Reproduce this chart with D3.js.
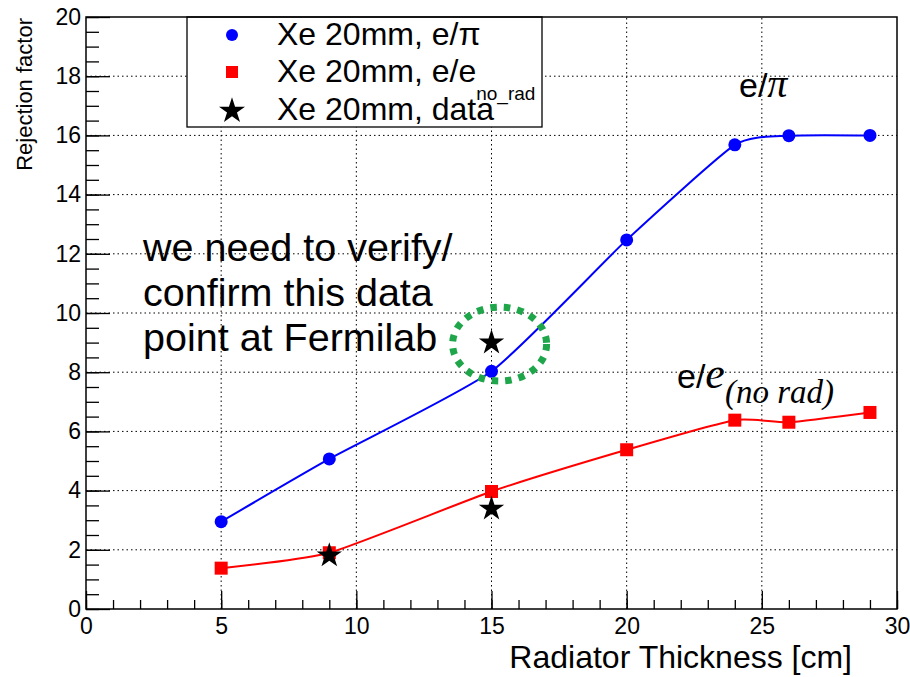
<!DOCTYPE html>
<html>
<head>
<meta charset="utf-8">
<script src="https://cdn.jsdelivr.net/npm/d3@7.9.0/dist/d3.min.js"></script>
<style>
  html, body { margin: 0; padding: 0; background: #fff; }
  svg { display: block; font-family: "Liberation Sans", Arial, Helvetica, sans-serif; }
  .serif { font-family: "Liberation Serif", "Times New Roman", serif; font-style: italic; }
</style>
</head>
<body>
<svg id="chart" width="910" height="677"></svg>
<script>
// data
const thickness = [5, 9, 15, 20, 24, 26, 29];
const ePi = [2.95, 5.07, 8.03, 12.47, 15.68, 15.99, 16.0];
const eNoRad = [1.38, 1.9, 3.97, 5.38, 6.38, 6.31, 6.64];
const dataX = [9, 15, 15];
const dataY = [1.84, 3.42, 9.03];
const xTicks = [0, 5, 10, 15, 20, 25, 30];
const yTicks = [0, 2, 4, 6, 8, 10, 12, 14, 16, 18, 20];
const legendLabels = ['Xe 20mm, e/\u03c0', 'Xe 20mm, e/e', 'Xe 20mm, data'];

const W = 910, H = 677;
const margin = { top: 17, right: 13, bottom: 68, left: 86 };

const svg = d3.select('#chart');
const x = d3.scaleLinear().domain([0, 30]).range([margin.left, W - margin.right]);
const y = d3.scaleLinear().domain([0, 20]).range([H - margin.bottom, margin.top]);

// grid (dotted, major ticks only)
const grid = svg.append('g').attr('stroke', '#000').attr('stroke-width', 1).attr('stroke-dasharray', '1.5 3');
xTicks.slice(1, -1).forEach(t => {
  grid.append('line').attr('x1', x(t)).attr('x2', x(t)).attr('y1', y(0)).attr('y2', y(20));
});
yTicks.slice(1, -1).forEach(t => {
  grid.append('line').attr('x1', x(0)).attr('x2', x(30)).attr('y1', y(t)).attr('y2', y(t));
});

// axes: ticks point inward
const yMinor = d3.range(0, 20.01, 0.5);
const xMinor = d3.range(0, 30.01, 1);

svg.append('g').attr('transform', `translate(${x(0)},0)`)
  .call(d3.axisLeft(y).tickValues(yMinor).tickSize(-13).tickFormat(''))
  .call(g => g.select('.domain').remove())
  .call(g => g.selectAll('line').attr('stroke', '#000').attr('stroke-width', 1.3));

svg.append('g').attr('transform', `translate(${x(0)},0)`)
  .call(d3.axisLeft(y).tickValues(yTicks).tickSize(-24).tickPadding(5))
  .call(g => g.select('.domain').remove())
  .call(g => g.selectAll('line').attr('stroke', '#000').attr('stroke-width', 1.3))
  .call(g => g.selectAll('text').attr('font-size', 23).attr('fill', '#000').attr('font-family', null));

svg.append('g').attr('transform', `translate(0,${y(0)})`)
  .call(d3.axisBottom(x).tickValues(xMinor).tickSize(-9).tickFormat(''))
  .call(g => g.select('.domain').remove())
  .call(g => g.selectAll('line').attr('stroke', '#000').attr('stroke-width', 1.3));

svg.append('g').attr('transform', `translate(0,${y(0)})`)
  .call(d3.axisBottom(x).tickValues(xTicks).tickSize(-18).tickPadding(9))
  .call(g => g.select('.domain').remove())
  .call(g => g.selectAll('line').attr('stroke', '#000').attr('stroke-width', 1.3))
  .call(g => g.selectAll('text').attr('font-size', 23).attr('fill', '#000').attr('font-family', null));

// axis titles
svg.append('text')
  .attr('transform', `translate(32,${margin.top + 1}) rotate(-90)`)
  .attr('text-anchor', 'end').attr('font-size', 22)
  .text('Rejection factor');

svg.append('text')
  .attr('x', 852).attr('y', 668)
  .attr('text-anchor', 'end').attr('font-size', 32)
  .text('Radiator Thickness [cm]');

// curves
const line = d3.line()
  .x((d, i) => x(thickness[i]))
  .y(d => y(d))
  .curve(d3.curveCardinal.tension(0.45));

svg.append('path').datum(ePi).attr('d', line)
  .attr('fill', 'none').attr('stroke', '#0000ff').attr('stroke-width', 2);
svg.append('path').datum(eNoRad).attr('d', line)
  .attr('fill', 'none').attr('stroke', '#ff0000').attr('stroke-width', 2);

// markers
svg.append('g').selectAll('circle').data(ePi).join('circle')
  .attr('cx', (d, i) => x(thickness[i])).attr('cy', d => y(d))
  .attr('r', 6.5).attr('fill', '#0000ff');

svg.append('g').selectAll('rect').data(eNoRad).join('rect')
  .attr('x', (d, i) => x(thickness[i]) - 6.5).attr('y', d => y(d) - 6.5)
  .attr('width', 13).attr('height', 13).attr('fill', '#ff0000');

const star = d3.symbol().type(d3.symbolStar).size(200);
svg.append('g').selectAll('path').data(dataY).join('path')
  .attr('transform', (d, i) => `translate(${x(dataX[i])},${y(d) + 1})`)
  .attr('d', star).attr('fill', '#000');

// highlight ellipse around the questioned point
svg.append('ellipse')
  .attr('cx', x(15.3)).attr('cy', y(8.95))
  .attr('rx', 47).attr('ry', 37)
  .attr('fill', 'none').attr('stroke', '#1fa64b')
  .attr('stroke-width', 7).attr('stroke-dasharray', '6.5 7');

// annotation
const note = svg.append('text').attr('x', 143).attr('font-size', 39.5).attr('fill', '#000');
['we need to verify/', 'confirm this data', 'point at Fermilab'].forEach((s, i) => {
  note.append('tspan').attr('x', 143).attr('y', 261 + i * 45).text(s);
});

// curve labels
const lab1 = svg.append('text').attr('x', 739).attr('y', 97).attr('font-size', 34);
lab1.append('tspan').text('e/');
lab1.append('tspan').attr('class', 'serif').attr('font-size', 40).text('\u03c0');

const lab2 = svg.append('text').attr('x', 677).attr('y', 388).attr('font-size', 34);
lab2.append('tspan').text('e/');
lab2.append('tspan').attr('class', 'serif').attr('font-size', 44).text('e');
lab2.append('tspan').attr('class', 'serif').attr('font-size', 33).attr('dy', 15).text('(no rad)');

// legend
const lg = svg.append('g');
lg.append('rect').attr('x', 187).attr('y', 17).attr('width', 355).attr('height', 110)
  .attr('fill', '#fff').attr('stroke', '#000').attr('stroke-width', 1.3);
const rowY = [35, 72, 110];
lg.append('circle').attr('cx', 232).attr('cy', rowY[0]).attr('r', 6).attr('fill', '#0000ff');
lg.append('rect').attr('x', 226).attr('y', rowY[1] - 6).attr('width', 12).attr('height', 12).attr('fill', '#ff0000');
lg.append('path').attr('transform', `translate(232,${rowY[2] + 1})`)
  .attr('d', d3.symbol().type(d3.symbolStar).size(210)).attr('fill', '#000');
legendLabels.forEach((s, i) => {
  const t = lg.append('text').attr('x', 277).attr('y', rowY[i] + 10).attr('font-size', 32).text(s);
  if (i === 1) t.append('tspan').attr('font-size', 19).attr('dy', 18).text('no_rad');
});

// frame
svg.append('rect')
  .attr('x', x(0)).attr('y', y(20)).attr('width', x(30) - x(0)).attr('height', y(0) - y(20))
  .attr('fill', 'none').attr('stroke', '#000').attr('stroke-width', 1.5);
</script>
</body>
</html>
